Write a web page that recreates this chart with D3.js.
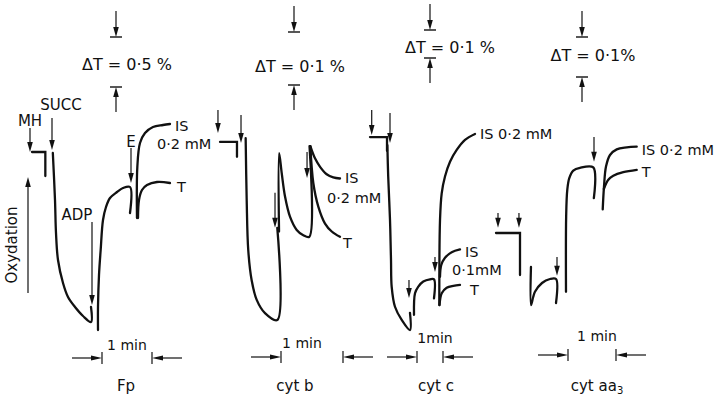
<!DOCTYPE html>
<html>
<head>
<meta charset="utf-8">
<script src="https://cdn.jsdelivr.net/npm/d3@7"></script>
<style>
  body { margin: 0; background: #fff; }
  svg text { font-family: "DejaVu Sans", sans-serif; fill: #111; }
</style>
</head>
<body>
<div id="chart"></div>
<script>
/* Data: time in s (0 = left tick of the 1 min bar), signal in % transmission */

// Fp
const fpTraces = [
  [[-84, 1.78], [-68, 1.78], [-68, 1.54]],
  [[-59, 1.77], [-56.4, 1.3], [-55.2, 0.97], [-52.8, 0.7], [-46.8, 0.47], [-40.8, 0.33], [-32.4, 0.23], [-22.8, 0.14], [-13.2, 0.08], [-13.2, 0.23]],
  [[-4.8, 0], [-4.8, 0.23], [-3.6, 0.55], [-1.6, 0.8], [1.2, 1.1], [4.8, 1.23], [9.6, 1.32], [18, 1.38], [25.2, 1.42], [33.6, 1.43], [33.6, 1.17]],
  [[42, 1.12], [42.4, 1.63], [45.6, 1.87], [51.6, 1.97], [61.2, 2.03], [73.2, 2.05], [81.6, 2.06]],
  [[43.2, 1.12], [44.4, 1.3], [48, 1.4], [54, 1.45], [66, 1.48], [81.6, 1.47]],
];
const fpAdditions = [['MH', -86.4, 2.02, 1.78], ['SUCC', -60, 2.12, 1.8], ['ADP', -12, 1.08, 0.25], ['E', 34.8, 1.82, 1.47]];
const fpTags = [[3, 'IS'], [3, '0·2 mM'], [4, 'T']];

// cyt b
const cbTraces = [
  [[-59, 0.336], [-42.6, 0.336], [-42.6, 0.308]],
  [[-34.2, 0.343], [-33.2, 0.226], [-31.7, 0.132], [-28.4, 0.075], [-23.5, 0.038], [-15.5, 0.013], [-3.6, 0], [-3.6, 0.174]],
  [[-1.9, 0.167], [-1.8, 0.315], [0.7, 0.277], [3.9, 0.233], [8.7, 0.195], [15.2, 0.17], [21.6, 0.16], [27.4, 0.157], [27.6, 0.328]],
  [[28.4, 0.328], [32.9, 0.305], [37.8, 0.289], [44.2, 0.275], [50.6, 0.269], [57.1, 0.267]],
  [[28.4, 0.328], [31.3, 0.258], [36.1, 0.214], [42.6, 0.182], [49.1, 0.167], [57.1, 0.157]],
];
const cbAdditions = [['', -61, 0.396, 0.353], ['', -38.7, 0.387, 0.334], ['', -5.8, 0.24, 0.174], ['', 25.2, 0.317, 0.268]];
const cbTags = [[3, 'IS'], [3, '0·2 mM'], [4, 'T']];

// cyt c
const ccTraces = [
  [[-108.5, 0.689], [-69.2, 0.689], [-69.2, 0.64]],
  [[-68.4, 0.66], [-66.5, 0.55], [-62.3, 0.393], [-60, 0.25], [-58.4, 0.154], [-50.8, 0.083], [-35.3, 0.036], [-16.2, 0], [-16.2, 0.061]],
  [[-6.9, 0.054], [-4.6, 0.131], [3, 0.155], [14.5, 0.173], [30, 0.181], [39.2, 0.181], [39.2, 0.113]],
  [[51.5, 0.089], [53.1, 0.393], [57, 0.488], [64.6, 0.548], [76.2, 0.601], [91.6, 0.643], [110.8, 0.679], [133.8, 0.7]],
  [[53.1, 0.19], [56, 0.232], [64.6, 0.258], [80.1, 0.278], [99.2, 0.288]],
  [[52, 0.089], [57, 0.131], [68.5, 0.151], [84, 0.158], [99.2, 0.161]],
];
const ccAdditions = [['', -104.5, 0.786, 0.696], ['', -62.3, 0.775, 0.668], ['', -18.5, 0.179, 0.114], ['', 41.5, 0.261, 0.207]];
const ccTags = [[3, 'IS 0·2 mM'], [4, 'IS'], [4, '0·1mM'], [5, 'T']];

// cyt aa3
const aaTraces = [
  [[-90, 0.18], [-60, 0.18], [-60, 0.075]],
  [[-46.3, 0.095], [-46.2, 0], [-43.5, 0.02], [-41.3, 0.033], [-32.5, 0.055], [-22.5, 0.065], [-15, 0.065], [-15, 0.005]],
  [[-2.5, 0.033], [-2.3, 0.221], [-0.9, 0.288], [1.6, 0.317], [6.6, 0.336], [15, 0.343], [31.6, 0.344], [32.3, 0.267]],
  [[43.4, 0.239], [45, 0.296], [47.5, 0.346], [52.5, 0.375], [60.9, 0.389], [73.4, 0.394], [85.9, 0.396]],
  [[44.8, 0.29], [50.4, 0.313], [56.6, 0.323], [69.1, 0.332], [85.9, 0.338]],
];
const aaAdditions = [['', -87.5, 0.23, 0.193], ['', -61.3, 0.23, 0.193], ['', -13.75, 0.12, 0.073], ['', 32.5, 0.42, 0.358]];
const aaTags = [[3, 'IS 0·2 mM'], [4, 'T']];

const panelNames = ['Fp', 'cyt b', 'cyt c', 'cyt aa'];
const deltaT = [0.5, 0.1, 0.1, 0.1];
const deltaTLabels = ['ΔT = 0·5 %', 'ΔT = 0·1 %', 'ΔT = 0·1 %', 'ΔT = 0·1%'];
const minuteLabels = ['1 min', '1 min', '1min', '1 min'];

/* Layout */
const width = 726,
  height = 398;
const layout = [
  { x0: 102, pxPerMin: 50, yBase: 330, pxPerPct: 100, calX: 116, calTop: 37, calText: [127, 70], minY: 358, minText: [127, 350], name: [126, 391],
    addOffsets: [[0, -2], [9, -8], [-15, -2], [0, -1]], tagOffsets: [[5, 7], [-13, 25], [7, 9]] },
  { x0: 281, pxPerMin: 62, yBase: 320, pxPerPct: 530, calX: 294, calTop: 32, calText: [300, 72], minY: 357, minText: [302, 348], name: [295, 391],
    addOffsets: [], tagOffsets: [[5, 5], [-13, 25], [3, 11]] },
  { x0: 417, pxPerMin: 26, yBase: 330, pxPerPct: 280, calX: 430, calTop: 30, calText: [450, 53], minY: 357, minText: [435, 343], name: [436, 391],
    addOffsets: [], tagOffsets: [[5, 5], [5, 8], [-8, 26], [10, 10]] },
  { x0: 568, pxPerMin: 48, yBase: 305, pxPerPct: 400, calX: 582, calTop: 37, calText: [593, 61], minY: 355, minText: [597, 341], name: [597, 391],
    addOffsets: [], tagOffsets: [[5, 8], [5, 7]] },
];
const panelData = [
  [fpTraces, fpAdditions, fpTags],
  [cbTraces, cbAdditions, cbTags],
  [ccTraces, ccAdditions, ccTags],
  [aaTraces, aaAdditions, aaTags],
];

const svg = d3
  .select('#chart')
  .append('svg')
  .attr('width', width)
  .attr('height', height);

// Filled slender arrow: line from (x, y1) to tip (x, y2)
const arrow = (g, x, y1, y2, w = 1.2) => {
  const dir = y2 > y1 ? 1 : -1;
  const head = 10;
  g.append('line')
    .attr('x1', x).attr('x2', x)
    .attr('y1', y1).attr('y2', y2 - dir * head * 0.6)
    .attr('stroke', '#111').attr('stroke-width', w);
  g.append('path')
    .attr('d', `M${x},${y2} L${x - 2.8},${y2 - dir * head} L${x + 2.8},${y2 - dir * head} Z`)
    .attr('fill', '#111');
};
const harrow = (g, x1, x2, y) => {
  const dir = x2 > x1 ? 1 : -1;
  g.append('line')
    .attr('x1', x1).attr('x2', x2 - dir * 6)
    .attr('y1', y).attr('y2', y)
    .attr('stroke', '#111').attr('stroke-width', 1.2);
  g.append('path')
    .attr('d', `M${x2},${y} L${x2 - dir * 11},${y - 2.4} L${x2 - dir * 11},${y + 2.4} Z`)
    .attr('fill', '#111');
};

/* Oxydation axis */
const axis = svg.append('g');
arrow(axis, 28, 293, 177);
axis
  .append('text')
  .attr('transform', 'translate(17,245) rotate(-90)')
  .attr('text-anchor', 'middle')
  .attr('font-size', 15)
  .text('Oxydation');

panelData.forEach(([traces, additions, tags], i) => {
  const L = layout[i];
  const x = d3.scaleLinear().domain([0, 60]).range([L.x0, L.x0 + L.pxPerMin]);
  const y = d3.scaleLinear().domain([0, 1]).range([L.yBase, L.yBase - L.pxPerPct]);
  const g = svg.append('g');

  const smooth = d3
    .line()
    .x((d) => x(d[0]))
    .y((d) => y(d[1]))
    .curve(d3.curveCatmullRom.alpha(0.5));
  // step pieces keep their sharp corners
  const step = d3
    .line()
    .x((d) => x(d[0]))
    .y((d) => y(d[1]));

  // Traces
  g.selectAll('path.trace')
    .data(traces)
    .join('path')
    .attr('class', 'trace')
    .attr('d', (d) => (d.length <= 3 ? step(d) : smooth(d)))
    .attr('fill', 'none')
    .attr('stroke', '#111')
    .attr('stroke-width', 2.3)
    .attr('stroke-linecap', 'round')
    .attr('stroke-linejoin', 'miter');

  // Additions
  additions.forEach(([label, t, v1, v2], j) => {
    arrow(g, x(t), y(v1), y(v2));
    if (label) {
      const [dx, dy] = L.addOffsets[j];
      g.append('text')
        .attr('x', x(t) + dx)
        .attr('y', y(v1) + dy)
        .attr('text-anchor', 'middle')
        .attr('font-size', 15)
        .text(label);
    }
  });

  // Trace tags
  tags.forEach(([k, text], j) => {
    const end = traces[k][traces[k].length - 1];
    const [dx, dy] = L.tagOffsets[j];
    g.append('text')
      .attr('x', x(end[0]) + dx)
      .attr('y', y(end[1]) + dy)
      .attr('font-size', 14.5)
      .text(text);
  });

  // ΔT calibration
  const calBottom = L.calTop + (y(0) - y(deltaT[i]));
  arrow(g, L.calX, L.calTop - 26, L.calTop);
  arrow(g, L.calX, calBottom + 25, calBottom);
  [L.calTop, calBottom].forEach((cy) =>
    g.append('line')
      .attr('x1', L.calX - 6).attr('x2', L.calX + 6)
      .attr('y1', cy).attr('y2', cy)
      .attr('stroke', '#111').attr('stroke-width', 1.4)
  );
  g.append('text')
    .attr('x', L.calText[0])
    .attr('y', L.calText[1])
    .attr('text-anchor', 'middle')
    .attr('font-size', 16)
    .text(deltaTLabels[i]);

  // 1 min bar
  const [m0, m1] = [x(0), x(60)];
  harrow(g, m0 - 30, m0, L.minY);
  harrow(g, m1 + 30, m1, L.minY);
  [m0, m1].forEach((mx) =>
    g.append('line')
      .attr('x1', mx).attr('x2', mx)
      .attr('y1', L.minY - 6).attr('y2', L.minY + 6)
      .attr('stroke', '#111').attr('stroke-width', 1.2)
  );
  g.append('text')
    .attr('x', L.minText[0])
    .attr('y', L.minText[1])
    .attr('text-anchor', 'middle')
    .attr('font-size', 14)
    .text(minuteLabels[i]);

  // Panel name
  const name = g
    .append('text')
    .attr('x', L.name[0])
    .attr('y', L.name[1])
    .attr('text-anchor', 'middle')
    .attr('font-size', 15)
    .text(panelNames[i]);
  if (i === 3) name.append('tspan').attr('font-size', 10).attr('dy', 3).text('3');
});
</script>
</body>
</html>
